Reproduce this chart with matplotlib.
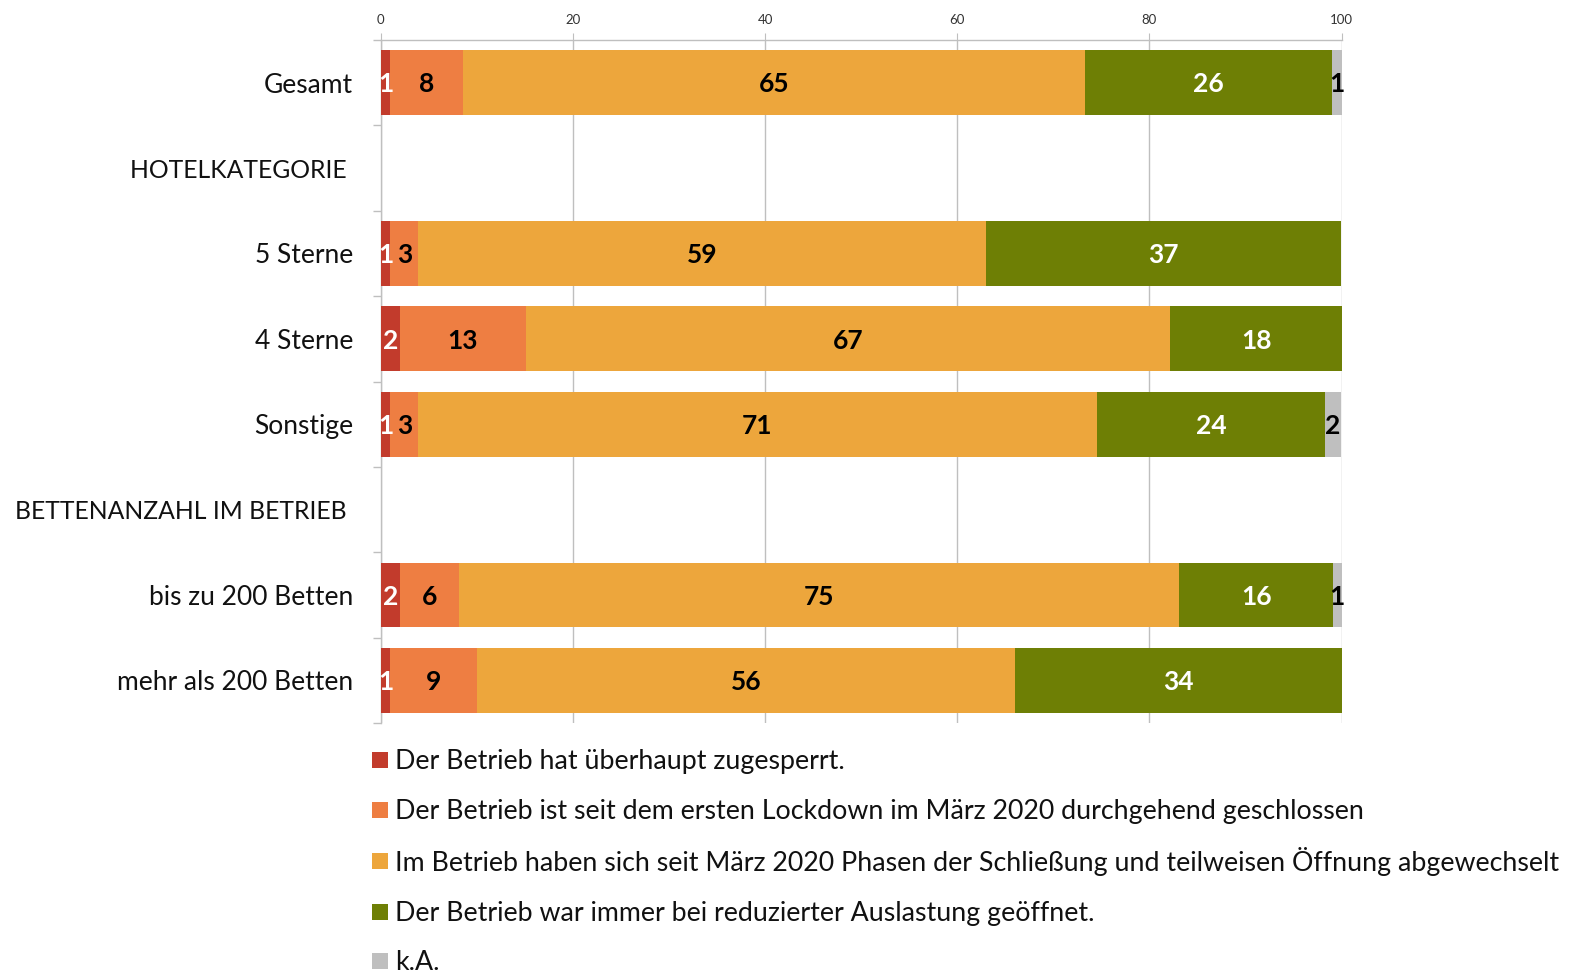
import matplotlib
matplotlib.use("Agg")
import matplotlib.pyplot as plt
from matplotlib.patches import Rectangle
import numpy as np

plt.rcParams['font.family'] = ['Lato', 'DejaVu Sans']

categories = ["Gesamt", "HOTELKATEGORIE ", "5 Sterne", "4 Sterne", "Sonstige",
              "BETTENANZAHL IM BETRIEB ", "bis zu 200 Betten", "mehr als 200 Betten"]
header_rows = [1, 5]

series_names = [
    "Der Betrieb hat überhaupt zugesperrt.",
    "Der Betrieb ist seit dem ersten Lockdown im März 2020 durchgehend geschlossen",
    "Im Betrieb haben sich seit März 2020 Phasen der Schließung und teilweisen Öffnung abgewechselt",
    "Der Betrieb war immer bei reduzierter Auslastung geöffnet.",
    "k.A.",
]

# segment widths (percent) per category; None rows are group headers
zugesperrt   = [1.0, None, 1.0, 2.0, 1.0, None, 2.0, 1.0]
geschlossen  = [7.6, None, 2.9, 13.1, 2.9, None, 6.1, 9.0]
abgewechselt = [64.7, None, 59.1, 67.0, 70.6, None, 75.0, 56.0]
geoeffnet    = [25.7, None, 36.9, 18.0, 23.8, None, 16.0, 34.0]
keine_angabe = [1.0, None, 0.0, 0.0, 1.6, None, 0.9, 0.0]

series = [zugesperrt, geschlossen, abgewechselt, geoeffnet, keine_angabe]
colors = ["#C23B2C", "#EE7E42", "#EDA63C", "#6E7F05", "#BFBFBF"]
label_colors = ["white", "black", "black", "white", "black"]

x_ticks = [0, 20, 40, 60, 80, 100]

W, H = 1576, 976
fig = plt.figure(figsize=(W / 100, H / 100), dpi=100)
ax = fig.add_axes([0.2416, 0.2592, 0.6097, 0.6998])

y = np.arange(len(categories))
left = np.zeros(len(categories))
for vals, col, lcol in zip(series, colors, label_colors):
    v = np.array([np.nan if a is None else a for a in vals], dtype=float)
    vv = np.nan_to_num(v)
    ax.barh(y, vv, left=left, height=0.76, color=col, zorder=3)
    for i, val in enumerate(vv):
        if val > 0:
            ax.text(left[i] + val / 2, y[i] + 0.02, f"{int(round(val))}", ha="center", va="center",
                    fontsize=19, fontweight="bold", color=lcol, zorder=4)
    left = left + vv

ax.set_xlim(0, 100)
ax.set_ylim(len(categories) - 0.5, -0.5)
ax.xaxis.tick_top()
ax.set_xticks(x_ticks)
ax.set_xticklabels([str(t) for t in x_ticks], fontsize=9.5, color="#333333")
ax.tick_params(axis="x", length=5, color="#BFBFBF", pad=5)
ax.grid(axis="x", color="#BFBFBF", linewidth=1, zorder=0)

ax.set_yticks(y)
ax.set_yticklabels(categories, fontsize=19, color="#111111")
for i in header_rows:
    ax.get_yticklabels()[i].set_fontsize(17.8)
ax.tick_params(axis="y", length=0, pad=20)
ax.set_yticks(np.arange(-0.5, len(categories), 1.0), minor=True)
ax.tick_params(axis="y", which="minor", length=6, color="#BFBFBF", width=1)

for s in ["right", "bottom"]:
    ax.spines[s].set_visible(False)
for s in ["left", "top"]:
    ax.spines[s].set_color("#BFBFBF")
    ax.spines[s].set_linewidth(1)

# legend, drawn manually in pixel-based figure coordinates
leg_rows_px = [760, 810, 861, 912, 961]
sq = 16
for name, col, yc in zip(series_names, colors, leg_rows_px):
    fig.patches.append(Rectangle((372 / W, 1 - (yc + sq / 2) / H), sq / W, sq / H,
                                 transform=fig.transFigure, facecolor=col, edgecolor="none"))
    fig.text(395 / W, 1 - (yc + 9.5) / H, name, fontsize=19.3, color="#111111",
             ha="left", va="baseline")

fig.savefig("out.png", dpi=100)
